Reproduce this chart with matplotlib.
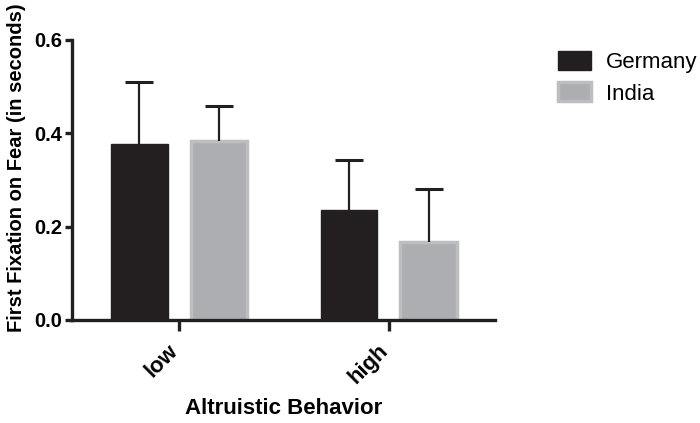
import numpy as np
import matplotlib
matplotlib.use('Agg')
import matplotlib.pyplot as plt

categories = ['low', 'high']
germany = [0.377, 0.235]
germany_err = [0.132, 0.108]
india = [0.384, 0.168]
india_err = [0.075, 0.112]

plt.rcParams['font.family'] = ['Liberation Sans', 'DejaVu Sans']

fig = plt.figure(figsize=(7, 4.23), dpi=100)
ax = fig.add_axes([0.103, 0.2435, 0.604, 0.662])

x = np.arange(len(categories))
w = 0.27
off = 0.19
ax.bar(x - off, germany, w, color='#231f20', edgecolor='#231f20', linewidth=1,
       label='Germany', zorder=2)
ax.bar(x + off, india, w, color='#adaeb1', edgecolor='#bdbec0', linewidth=2.5,
       label='India', zorder=2)

# upper error bars only, no cap at the bar top
for xs, ys, es in [(x - off, germany, germany_err), (x + off, india, india_err)]:
    eb = ax.errorbar(xs, ys, yerr=[np.zeros(2), es], fmt='none',
                     ecolor='#231f20', elinewidth=1.6, capsize=10, capthick=2.2,
                     zorder=3)
    eb[1][0].set_visible(False)

ax.set_xlim(-0.51, 1.505)
ax.set_ylim(0, 0.6)
ax.set_yticks([0.0, 0.2, 0.4, 0.6])
ax.set_yticklabels(['0.0', '0.2', '0.4', '0.6'], fontweight='bold', fontsize=14.5)
ax.set_xticks(x)
ax.set_xticklabels(categories, rotation=45, ha='right', va='baseline',
                   rotation_mode='anchor', fontweight='bold', fontsize=16)

for s in ['top', 'right']:
    ax.spines[s].set_visible(False)
for s in ['left', 'bottom']:
    ax.spines[s].set_linewidth(2.4)
    ax.spines[s].set_color('#231f20')
ax.tick_params(axis='y', length=5, width=2.4, color='#231f20', pad=2)
ax.tick_params(axis='x', length=8, width=2.4, color='#231f20', pad=15)

ax.set_ylabel('First Fixation on Fear (in seconds)', fontweight='bold',
              fontsize=14.5)
ax.yaxis.set_label_coords(-0.108, 0.545)
ax.set_xlabel('Altruistic Behavior', fontweight='bold', fontsize=16, labelpad=7)

fig.legend(loc='upper left', bbox_to_anchor=(0.785, 0.9), frameon=False,
           fontsize=16, handlelength=1.45, handleheight=0.95, handletextpad=0.7,
           labelspacing=0.4, borderaxespad=0)

fig.savefig('out.png', dpi=100)
